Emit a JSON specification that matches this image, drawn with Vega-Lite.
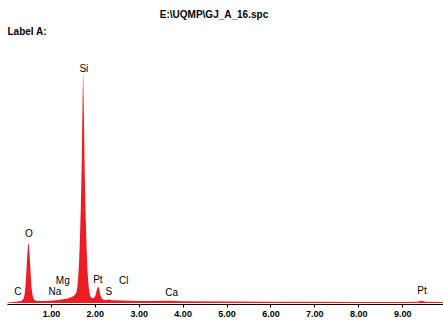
{
  "$schema": "https://vega.github.io/schema/vega-lite/v6.json",
  "width": 436,
  "height": 264,
  "autosize": {"type": "none"},
  "padding": {"left": 7, "top": 40, "right": 0, "bottom": 16},
  "background": "white",
  "title": {
    "text": "E:\\UQMP\\GJ_A_16.spc",
    "font": "Liberation Sans",
    "fontSize": 10,
    "fontWeight": "bold",
    "color": "#000000",
    "baseline": "bottom",
    "offset": 9,
    "dy": 13,
    "dx": -11
  },
  "config": {"view": {"stroke": null}},
  "datasets": {
    "spectrum": [
      {"keV": 0.0, "counts": 2},
      {"keV": 0.1, "counts": 3},
      {"keV": 0.2, "counts": 5},
      {"keV": 0.27, "counts": 8},
      {"keV": 0.3, "counts": 8},
      {"keV": 0.35, "counts": 12},
      {"keV": 0.38, "counts": 20},
      {"keV": 0.4, "counts": 35},
      {"keV": 0.42, "counts": 70},
      {"keV": 0.44, "counts": 130},
      {"keV": 0.46, "counts": 200},
      {"keV": 0.48, "counts": 250},
      {"keV": 0.49, "counts": 257},
      {"keV": 0.5, "counts": 245},
      {"keV": 0.52, "counts": 190},
      {"keV": 0.54, "counts": 120},
      {"keV": 0.56, "counts": 65},
      {"keV": 0.58, "counts": 35},
      {"keV": 0.6, "counts": 20},
      {"keV": 0.63, "counts": 12},
      {"keV": 0.7, "counts": 9},
      {"keV": 0.85, "counts": 9},
      {"keV": 1.0, "counts": 10},
      {"keV": 1.1, "counts": 12},
      {"keV": 1.25, "counts": 15},
      {"keV": 1.4, "counts": 20},
      {"keV": 1.5, "counts": 28},
      {"keV": 1.55, "counts": 35},
      {"keV": 1.58, "counts": 45},
      {"keV": 1.6, "counts": 65},
      {"keV": 1.62, "counts": 105},
      {"keV": 1.64, "counts": 170},
      {"keV": 1.66, "counts": 270},
      {"keV": 1.68, "counts": 400},
      {"keV": 1.7, "counts": 580},
      {"keV": 1.72, "counts": 850},
      {"keV": 1.734, "counts": 1000},
      {"keV": 1.75, "counts": 820},
      {"keV": 1.77, "counts": 560},
      {"keV": 1.79, "counts": 380},
      {"keV": 1.81, "counts": 250},
      {"keV": 1.83, "counts": 150},
      {"keV": 1.85, "counts": 90},
      {"keV": 1.87, "counts": 55},
      {"keV": 1.89, "counts": 35},
      {"keV": 1.91, "counts": 25},
      {"keV": 1.94, "counts": 20},
      {"keV": 1.99, "counts": 22},
      {"keV": 2.02, "counts": 35},
      {"keV": 2.05, "counts": 60},
      {"keV": 2.075, "counts": 72},
      {"keV": 2.1, "counts": 58},
      {"keV": 2.13, "counts": 32},
      {"keV": 2.16, "counts": 18},
      {"keV": 2.2, "counts": 14},
      {"keV": 2.25, "counts": 13},
      {"keV": 2.31, "counts": 15},
      {"keV": 2.4, "counts": 12},
      {"keV": 2.62, "counts": 11},
      {"keV": 2.8, "counts": 10},
      {"keV": 3.0, "counts": 9},
      {"keV": 3.3, "counts": 9},
      {"keV": 3.69, "counts": 10},
      {"keV": 4.0, "counts": 8},
      {"keV": 5.0, "counts": 6},
      {"keV": 6.0, "counts": 5},
      {"keV": 7.0, "counts": 5},
      {"keV": 8.0, "counts": 4},
      {"keV": 9.0, "counts": 4},
      {"keV": 9.35, "counts": 5},
      {"keV": 9.44, "counts": 10},
      {"keV": 9.52, "counts": 5},
      {"keV": 9.93, "counts": 4}
    ],
    "labels": [
      {"keV": 0.25, "counts": 26, "element": "C"},
      {"keV": 0.5, "counts": 275, "element": "O"},
      {"keV": 1.09, "counts": 26, "element": "Na"},
      {"keV": 1.27, "counts": 73, "element": "Mg"},
      {"keV": 1.75, "counts": 985, "element": "Si"},
      {"keV": 2.07, "counts": 77, "element": "Pt"},
      {"keV": 2.32, "counts": 26, "element": "S"},
      {"keV": 2.66, "counts": 73, "element": "Cl"},
      {"keV": 3.75, "counts": 21, "element": "Ca"},
      {"keV": 9.45, "counts": 30, "element": "Pt"}
    ]
  },
  "encoding": {
    "x": {
      "field": "keV",
      "type": "quantitative",
      "scale": {"domain": [0, 9.93], "nice": false, "zero": false},
      "axis": {
        "title": null,
        "values": [1, 2, 3, 4, 5, 6, 7, 8, 9],
        "format": ".2f",
        "grid": false,
        "domainColor": "#000000",
        "domainWidth": 1,
        "tickColor": "#000000",
        "tickSize": 3,
        "labelFont": "Liberation Sans",
        "labelFontSize": 9,
        "labelFontWeight": "bold",
        "labelColor": "#000000",
        "labelPadding": 2
      }
    },
    "y": {
      "field": "counts",
      "type": "quantitative",
      "scale": {"domain": [-4.3, 1128.8], "nice": false, "zero": false},
      "axis": {
        "title": "Label A:",
        "titleAngle": 0,
        "titleX": 0,
        "titleY": -9,
        "titleAlign": "left",
        "titleBaseline": "middle",
        "titleFont": "Liberation Sans",
        "titleFontSize": 10,
        "titleFontWeight": "bold",
        "titleColor": "#000000",
        "domain": false,
        "ticks": false,
        "labels": false,
        "grid": false
      }
    }
  },
  "layer": [
    {
      "data": {"name": "spectrum"},
      "mark": {"type": "area", "color": "#ee1c25", "interpolate": "linear"},
      "encoding": {"y2": {"datum": 0}}
    },
    {
      "data": {"name": "labels"},
      "mark": {
        "type": "text",
        "font": "Liberation Sans",
        "fontSize": 10,
        "color": "#000000",
        "baseline": "bottom",
        "align": "center"
      },
      "encoding": {"text": {"field": "element", "type": "nominal"}}
    }
  ]
}
